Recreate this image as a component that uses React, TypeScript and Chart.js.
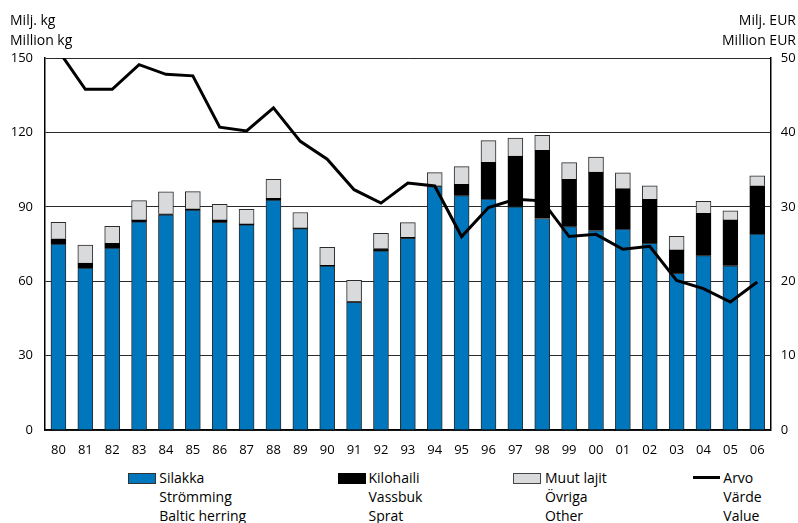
import React, { useEffect, useRef } from "react";
import { Chart, registerables } from "chart.js";

Chart.register(...registerables);

const years = ["80","81","82","83","84","85","86","87","88","89","90","91","92","93","94","95","96","97","98","99","00","01","02","03","04","05","06"];
const silakka = [75, 65.3, 73.4, 83.9, 86.8, 88.7, 83.7, 82.7, 92.7, 81.2, 66.1, 51.5, 72.2, 77.3, 98.2, 94.5, 93.1, 90.0, 85.3, 82.0, 80.4, 81.0, 75.3, 63.2, 70.3, 66.2, 79.0];
const kilohaili = [2.1, 2.0, 1.9, 0.8, 0.4, 0.5, 1.0, 0.4, 0.7, 0.3, 0.3, 0.3, 1.0, 0.4, 0.3, 4.6, 14.8, 20.5, 27.5, 19.1, 23.6, 16.3, 17.7, 9.4, 17.1, 18.5, 19.5];
const muut = [6.6, 7.3, 6.8, 7.8, 8.8, 6.9, 6.3, 5.9, 7.7, 6.2, 7.3, 8.6, 6.1, 5.9, 5.3, 7.1, 8.8, 7.2, 6.0, 6.7, 6.0, 6.4, 5.5, 5.5, 4.8, 3.7, 4.0];
const arvo = [51, 45.8, 45.8, 49.1, 47.8, 47.6, 40.7, 40.2, 43.3, 38.8, 36.4, 32.3, 30.5, 33.2, 32.8, 26.0, 29.9, 31.0, 30.8, 26.0, 26.3, 24.3, 24.7, 20.1, 19.0, 17.2, 19.9];
const leftTicks = [0, 30, 60, 90, 120, 150];
const rightTicks = [0, 10, 20, 30, 40, 50];

const FONT = "'Open Sans', 'Noto Sans', sans-serif";
const BLUE = "#0077bc";
const GRAY = "#d9dadc";
const EDGE = "#2b2b2b";

export default function App() {
  const ref = useRef<HTMLCanvasElement | null>(null);

  useEffect(() => {
    if (!ref.current) return;
    Chart.defaults.font.family = FONT;
    Chart.defaults.color = "#000";
    const chart = new Chart(ref.current, {
      type: "bar",
      data: {
        labels: years,
        datasets: [
          {
            type: "line",
            label: "Arvo",
            data: arvo,
            yAxisID: "y2",
            borderColor: "#000",
            borderWidth: 3,
            pointRadius: 0,
            tension: 0,
            fill: false,
            order: 0,
            clip: 0,
          } as any,
          {
            label: "Silakka",
            data: silakka,
            backgroundColor: BLUE,
            borderColor: EDGE,
            borderWidth: 1,
            barThickness: 15,
            yAxisID: "y",
            order: 1,
          },
          {
            label: "Kilohaili",
            data: kilohaili,
            backgroundColor: "#000",
            borderColor: "#000",
            borderWidth: 1,
            barThickness: 15,
            yAxisID: "y",
            order: 1,
          },
          {
            label: "Muut lajit",
            data: muut,
            backgroundColor: GRAY,
            borderColor: EDGE,
            borderWidth: 1,
            barThickness: 15,
            yAxisID: "y",
            order: 1,
          },
        ],
      },
      options: {
        responsive: false,
        animation: false,
        layout: { padding: { top: 58, left: 0, right: 0, bottom: 0 } },
        plugins: { legend: { display: false }, tooltip: { enabled: false } },
        scales: {
          x: {
            stacked: true,
            grid: { display: false, drawTicks: false },
            border: { display: true, color: "#000", width: 1.5 },
            ticks: { padding: 12, font: { size: 13 }, color: "#000", maxRotation: 0, autoSkip: false },
            afterFit: (s: any) => { s.height = 30; },
          },
          y: {
            stacked: true,
            position: "left",
            min: 0,
            max: 150,
            afterBuildTicks: (s: any) => { s.ticks = leftTicks.map((v) => ({ value: v })); },
            grid: { color: "#2a2a2a", lineWidth: 1, drawTicks: false },
            border: { display: true, color: "#000", width: 1.5 },
            ticks: { padding: 12, font: { size: 13 }, color: "#000" },
            afterFit: (s: any) => { s.width = 45; },
          },
          y2: {
            position: "right",
            min: 0,
            max: 50,
            afterBuildTicks: (s: any) => { s.ticks = rightTicks.map((v) => ({ value: v })); },
            grid: { display: false, drawTicks: false },
            border: { display: true, color: "#000", width: 1.5 },
            ticks: { padding: 10, font: { size: 13 }, color: "#000" },
            afterFit: (s: any) => { s.width = 27.3; },
          },
        },
      },
    });
    return () => chart.destroy();
  }, []);

  const text: React.CSSProperties = {
    position: "absolute",
    fontFamily: FONT,
    fontSize: 14,
    lineHeight: "19px",
    color: "#000",
    whiteSpace: "nowrap",
  };

  const legendCols = [
    { x: 159.3, lines: ["Silakka", "Strömming", "Baltic herring"] },
    { x: 368.5, lines: ["Kilohaili", "Vassbuk", "Sprat"] },
    { x: 545, lines: ["Muut lajit", "Övriga", "Other"] },
    { x: 723.3, lines: ["Arvo", "Värde", "Value"] },
  ];
  const rowTops = [468.4, 487.4, 506.4];

  return (
    <div style={{ position: "absolute", left: 0, top: 0, width: 798, height: 523, background: "#fff", overflow: "hidden" }}>
      <canvas ref={ref} width={798} height={460} style={{ position: "absolute", left: 0, top: 0, width: 798, height: 460 }} />
      <div style={{ ...text, left: 10, top: 10 }}>Milj. kg</div>
      <div style={{ ...text, left: 10, top: 30 }}>Million kg</div>
      <div style={{ ...text, right: 2, top: 10, textAlign: "right" }}>Milj. EUR</div>
      <div style={{ ...text, right: 2, top: 30, textAlign: "right" }}>Million EUR</div>

      <div style={{ position: "absolute", left: 127.5, top: 472.5, width: 28, height: 11, background: BLUE, border: "1px solid #333", boxSizing: "border-box" }} />
      <div style={{ position: "absolute", left: 337.5, top: 472.5, width: 28, height: 11, background: "#000", boxSizing: "border-box" }} />
      <div style={{ position: "absolute", left: 513, top: 472.5, width: 28, height: 11, background: GRAY, border: "1px solid #444", boxSizing: "border-box" }} />
      <div style={{ position: "absolute", left: 693, top: 476, width: 27, height: 3, background: "#000" }} />

      {legendCols.map((c) =>
        c.lines.map((t, i) => (
          <div key={c.x + "-" + i} style={{ ...text, left: c.x, top: rowTops[i] }}>{t}</div>
        ))
      )}
    </div>
  );
}
